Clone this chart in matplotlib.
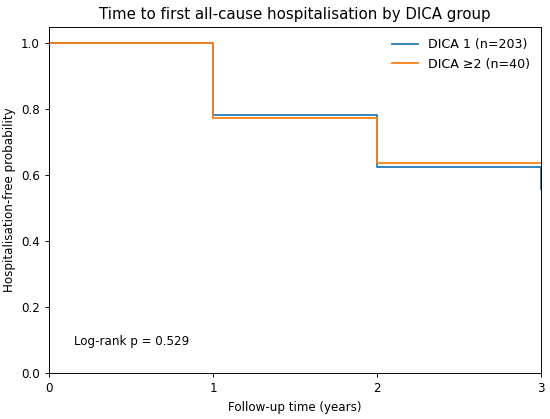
import matplotlib
matplotlib.use("Agg")
import matplotlib.pyplot as plt

# Step times (years) and survival values
times_g1 = [0, 1, 2, 3]
surv_g1 = [1.0, 0.782, 0.624, 0.558]
times_g2 = [0, 1, 2, 3]
surv_g2 = [1.0, 0.774, 0.636, 0.636]
labels = ["DICA 1 (n=203)", "DICA ≥2 (n=40)"]
p_value = 0.529

s = 0.86
plt.rcParams['font.size'] = 10 * s
fig = plt.figure(figsize=(5.5, 4.19), dpi=100)
ax = fig.add_axes([49 / 550, 46 / 419, 492 / 550, 346 / 419])

ax.step(times_g1, surv_g1, where="post", color="#1f77b4", lw=1.5 * s, label=labels[0])
ax.step(times_g2, surv_g2, where="post", color="#ff7f0e", lw=1.5 * s, label=labels[1])

ax.set_xlim(0, 3)
ax.set_ylim(0, 1.05)
ax.set_xticks([0, 1, 2, 3])
ax.set_yticks([0.0, 0.2, 0.4, 0.6, 0.8, 1.0])
ax.set_xlabel("Follow-up time (years)")
ax.set_ylabel("Hospitalisation-free probability")
ax.set_title("Time to first all-cause hospitalisation by DICA group", fontsize=10.8)
ax.text(0.05, 0.09, f"Log-rank p = {p_value:.3f}", transform=ax.transAxes, va="center")
ax.legend(loc="upper right", frameon=False, fontsize=9.1, borderaxespad=0.5)
for sp in ax.spines.values():
    sp.set_linewidth(0.8 * s)
ax.tick_params(width=0.8 * s, length=3.5 * s)

fig.savefig("out.png", dpi=100)
